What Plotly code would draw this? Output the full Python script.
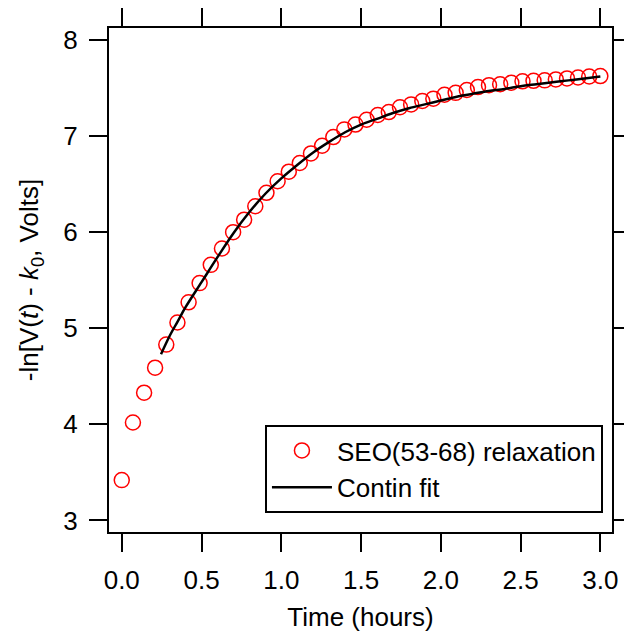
import plotly.graph_objects as go

# Data
time_h = [0.000, 0.070, 0.140, 0.209, 0.279, 0.349, 0.419, 0.488, 0.558, 0.628,
          0.698, 0.767, 0.837, 0.907, 0.977, 1.047, 1.116, 1.186, 1.256, 1.326,
          1.395, 1.465, 1.535, 1.605, 1.674, 1.744, 1.814, 1.884, 1.953, 2.023,
          2.093, 2.163, 2.233, 2.302, 2.372, 2.442, 2.512, 2.581, 2.651, 2.721,
          2.791, 2.860, 2.930, 3.000]
relax = [3.42, 4.02, 4.33, 4.59, 4.83, 5.06, 5.27, 5.47, 5.66, 5.83,
         6.00, 6.13, 6.27, 6.41, 6.53, 6.63, 6.72, 6.82, 6.90, 6.99,
         7.07, 7.12, 7.17, 7.22, 7.25, 7.30, 7.33, 7.365, 7.39, 7.43,
         7.45, 7.48, 7.51, 7.53, 7.54, 7.555, 7.57, 7.575, 7.58, 7.59,
         7.60, 7.61, 7.62, 7.625]

fit_t = [0.246, 0.30, 0.35, 0.40, 0.50, 0.60, 0.70, 0.80, 0.90, 1.00,
         1.10, 1.20, 1.30, 1.40, 1.50, 1.60, 1.70, 1.80, 1.90, 2.00,
         2.10, 2.20, 2.30, 2.40, 2.50, 2.60, 2.70, 2.80, 2.90, 3.00]
fit_y = [4.73, 4.92, 5.07, 5.22, 5.48, 5.74, 5.99, 6.21, 6.40, 6.56,
         6.70, 6.83, 6.94, 7.04, 7.12, 7.18, 7.24, 7.29, 7.33, 7.37,
         7.41, 7.44, 7.47, 7.49, 7.52, 7.54, 7.56, 7.58, 7.60, 7.62]

x_ticks = [0.0, 0.5, 1.0, 1.5, 2.0, 2.5, 3.0]
y_ticks = [3, 4, 5, 6, 7, 8]

FONT = "Liberation Sans, Arial, sans-serif"

fig = go.Figure()
fig.add_trace(go.Scatter(
    x=time_h, y=relax, mode="markers", name="SEO(53-68) relaxation",
    marker=dict(symbol="circle-open", size=15, color="#ff0000",
                line=dict(width=1.5, color="#ff0000")),
))
fig.add_trace(go.Scatter(
    x=fit_t, y=fit_y, mode="lines", name="Contin fit",
    line=dict(color="black", width=2.5, shape="spline"),
))

axis_common = dict(
    showline=True, linecolor="black", linewidth=2, mirror="allticks",
    ticks="outside", ticklen=18, tickwidth=2, tickcolor="black",
    showgrid=False, zeroline=False,
    tickfont=dict(family=FONT, size=26, color="black"),
)

fig.update_layout(
    width=624, height=632,
    margin=dict(l=109, r=12, t=28, b=100, autoexpand=False),
    paper_bgcolor="white", plot_bgcolor="white",
    font=dict(family=FONT, size=26, color="black"),
    xaxis=dict(range=[-0.08, 3.073], tickvals=x_ticks,
               ticktext=[f"{v:.1f}" for v in x_ticks],
               ticklabelstandoff=6,
               title=dict(text="Time (hours)", font=dict(family=FONT, size=26),
                          standoff=16),
               **axis_common),
    yaxis=dict(range=[2.88, 8.125], tickvals=y_ticks,
               ticklabelstandoff=6,
               title=dict(text="-ln[V(<i>t</i>) - <i>k</i><sub>0</sub>, Volts]",
                          font=dict(family=FONT, size=26), standoff=17),
               **axis_common),
    showlegend=True,
    legend=dict(x=0.982, y=0.0377, xanchor="right", yanchor="bottom",
                bgcolor="white", bordercolor="black", borderwidth=2,
                font=dict(family=FONT, size=26, color="black"),
                tracegroupgap=0, itemwidth=60),
)

fig.write_html("out.html")
